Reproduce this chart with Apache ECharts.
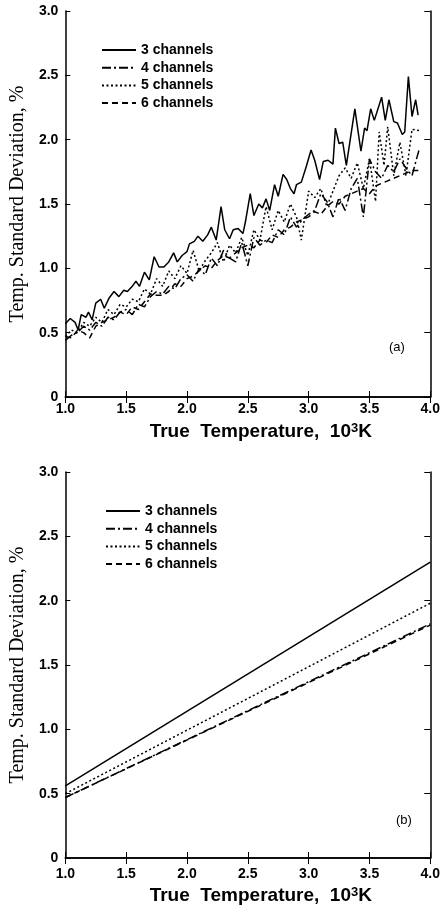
<!DOCTYPE html>
<html><head><meta charset="utf-8">
<script src="https://cdn.jsdelivr.net/npm/echarts@6/dist/echarts.min.js"></script>
<style>html,body{margin:0;padding:0;background:#fff}#c{width:443px;height:907px}</style>
</head><body><div id="c"></div>
<script>
// ---------- DATA ----------
const seriesNames = ['3 channels','4 channels','5 channels','6 channels'];
const xTicks = [1.0,1.5,2.0,2.5,3.0,3.5,4.0];
const yTicks = [0,0.5,1.0,1.5,2.0,2.5,3.0];

// Panel (a) – noisy simulation results
const a3x = [1.00,1.04,1.08,1.105,1.13,1.17,1.19,1.22,1.25,1.29,1.32,1.36,1.40,1.44,1.48,1.51,1.55,1.58,1.61,1.65,1.69,1.73,1.77,1.81,1.85,1.89,1.92,1.96,2.00,2.02,2.06,2.09,2.13,2.17,2.20,2.24,2.28,2.31,2.35,2.38,2.42,2.46,2.48,2.52,2.55,2.59,2.62,2.65,2.68,2.72,2.75,2.79,2.82,2.85,2.88,2.90,2.94,2.98,3.02,3.05,3.09,3.12,3.16,3.20,3.22,3.25,3.28,3.31,3.38,3.43,3.46,3.48,3.51,3.54,3.60,3.63,3.66,3.70,3.73,3.77,3.79,3.82,3.85,3.88,3.90];
const a3y = [0.57,0.61,0.58,0.52,0.64,0.62,0.66,0.60,0.73,0.76,0.69,0.77,0.82,0.78,0.83,0.82,0.86,0.90,0.86,0.97,0.91,1.09,1.01,1.01,1.05,1.12,1.05,1.10,1.13,1.19,1.21,1.25,1.21,1.26,1.32,1.22,1.48,1.30,1.23,1.30,1.31,1.27,1.36,1.58,1.41,1.50,1.47,1.54,1.45,1.65,1.56,1.73,1.69,1.62,1.58,1.65,1.67,1.79,1.92,1.84,1.69,1.83,1.84,1.81,2.09,1.97,1.98,1.80,2.24,1.91,2.09,2.07,2.24,2.15,2.33,2.15,2.31,2.14,2.13,2.04,2.06,2.49,2.18,2.31,2.19];

const a5x = [1.00,1.05,1.10,1.15,1.20,1.25,1.30,1.35,1.40,1.45,1.50,1.55,1.60,1.65,1.70,1.75,1.80,1.85,1.90,1.95,2.00,2.05,2.10,2.15,2.20,2.25,2.30,2.35,2.40,2.45,2.50,2.55,2.60,2.65,2.70,2.75,2.80,2.85,2.90,2.94,3.00,3.05,3.10,3.15,3.20,3.25,3.30,3.35,3.40,3.45,3.50,3.55,3.58,3.62,3.65,3.70,3.75,3.80,3.85,3.91];
const a5y = [0.47,0.52,0.50,0.58,0.55,0.62,0.58,0.68,0.64,0.72,0.70,0.76,0.74,0.84,0.80,0.92,0.86,0.98,0.92,1.02,0.96,1.14,0.98,1.06,1.12,1.20,1.05,1.18,1.12,1.24,1.10,1.30,1.22,1.48,1.30,1.45,1.36,1.50,1.40,1.22,1.60,1.55,1.62,1.48,1.60,1.72,1.78,1.70,1.82,1.62,1.85,1.52,2.06,1.80,2.10,1.72,1.98,1.72,2.08,2.07];

const a4x = [1.00,1.05,1.10,1.15,1.20,1.25,1.30,1.35,1.40,1.45,1.50,1.55,1.60,1.65,1.70,1.75,1.80,1.85,1.90,1.95,2.00,2.05,2.10,2.15,2.20,2.25,2.30,2.35,2.40,2.45,2.50,2.55,2.60,2.65,2.70,2.75,2.80,2.85,2.90,2.95,3.00,3.05,3.10,3.15,3.20,3.25,3.30,3.35,3.40,3.45,3.50,3.55,3.60,3.65,3.70,3.75,3.80,3.85,3.91];
const a4y = [0.44,0.48,0.50,0.55,0.52,0.58,0.55,0.62,0.60,0.66,0.68,0.64,0.72,0.70,0.78,0.82,0.80,0.86,0.84,0.92,0.95,0.90,1.00,0.95,1.08,1.02,1.14,1.08,1.05,1.20,1.02,1.24,1.18,1.22,1.20,1.30,1.26,1.40,1.32,1.38,1.42,1.45,1.58,1.52,1.40,1.55,1.45,1.62,1.70,1.40,1.85,1.75,1.70,1.80,1.75,1.85,1.78,1.72,1.93];

const a6x = [1.00,1.05,1.10,1.15,1.20,1.25,1.30,1.35,1.40,1.45,1.50,1.55,1.60,1.65,1.70,1.75,1.80,1.85,1.90,1.95,2.00,2.05,2.10,2.15,2.20,2.25,2.30,2.35,2.40,2.45,2.50,2.55,2.60,2.65,2.70,2.75,2.80,2.85,2.90,2.95,3.00,3.05,3.10,3.15,3.20,3.25,3.30,3.35,3.40,3.45,3.50,3.55,3.60,3.65,3.70,3.75,3.80,3.85,3.91];
const a6y = [0.47,0.46,0.52,0.50,0.46,0.55,0.58,0.60,0.62,0.66,0.64,0.70,0.68,0.74,0.80,0.79,0.79,0.82,0.88,0.86,0.92,0.94,0.98,1.02,1.00,1.06,1.10,1.08,1.12,1.16,1.18,1.16,1.22,1.20,1.26,1.24,1.30,1.32,1.36,1.38,1.40,1.44,1.42,1.48,1.52,1.50,1.56,1.58,1.60,1.62,1.58,1.64,1.66,1.68,1.70,1.72,1.74,1.76,1.76];

// Panel (b) – fitted straight lines
const bx = [1.0, 4.0];
const b3y = [0.56, 2.30];
const b4y = [0.47, 1.82];
const b5y = [0.50, 1.98];
const b6y = [0.47, 1.81];

// ---------- CHART ----------
const zip = (xs, ys) => xs.map((x, i) => [x, ys[i]]);
const styles = [
  {type:'solid', width:1.5},
  {type:[9,3,2,3], width:1.5},
  {type:[2,2.5], width:1.5},
  {type:[6,4], width:1.5}
];
const SANS = 'Liberation Sans, Arial, sans-serif';
const tickFont = {fontFamily:SANS, fontWeight:'bold', fontSize:14, color:'#000'};
const fmt1 = v => (v === 0 ? '0' : v.toFixed(1));

function xAxisMain(gi, margin, nameGap) {
  return {type:'value', gridIndex:gi, min:1, max:4, interval:0.5, position:'bottom',
    axisLine:{lineStyle:{color:'#000', width:1.5}},
    axisTick:{inside:true, length:6, lineStyle:{color:'#000'}},
    axisLabel:Object.assign({margin:margin, formatter:fmt1, showMinLabel:true, showMaxLabel:true}, tickFont),
    splitLine:{show:false},
    name:'{a|True  Temperature,  10}{s|3}{a|K}', nameLocation:'middle', nameGap:nameGap,
    nameTextStyle:{verticalAlign:'top', color:'#000', padding:[0,0,0,26],
      rich:{a:{fontFamily:SANS, fontWeight:'bold', fontSize:19, color:'#000'},
            s:{fontFamily:SANS, fontWeight:'bold', fontSize:13, color:'#000', verticalAlign:'top', padding:[0,0,6,0]}}}};
}
function xAxisTop(gi) {
  return {type:'value', gridIndex:gi, min:1, max:4, interval:0.5, position:'top',
    axisLine:{lineStyle:{color:'#000', width:1.5}},
    axisTick:{inside:true, length:6, lineStyle:{color:'#000'}},
    axisLabel:{show:false}, splitLine:{show:false}};
}
function yAxisMain(gi) {
  return {type:'value', gridIndex:gi, min:0, max:3, interval:0.5, position:'left',
    axisLine:{lineStyle:{color:'#000', width:1.5}},
    axisTick:{inside:true, length:5, lineStyle:{color:'#000'}},
    axisLabel:Object.assign({margin:7, formatter:fmt1}, tickFont),
    splitLine:{show:false},
    name:'Temp. Standard Deviation, %', nameLocation:'middle', nameGap:36,
    nameTextStyle:{fontFamily:'Liberation Serif, Times New Roman, serif', fontSize:20, color:'#000'}};
}
function yAxisRight(gi) {
  return {type:'value', gridIndex:gi, min:0, max:3, interval:0.5, position:'right',
    axisLine:{lineStyle:{color:'#000', width:1.5}},
    axisTick:{inside:true, length:6, lineStyle:{color:'#000'}},
    axisLabel:{show:false}, splitLine:{show:false}};
}
function line(name, data, gi, si) {
  return {name:name, type:'line', xAxisIndex:gi*2, yAxisIndex:gi*2, data:data,
    symbol:'none', showSymbol:false, silent:true, animation:false,
    itemStyle:{color:'#000'},
    lineStyle:Object.assign({color:'#000'}, styles[si])};
}

function legendAt(left, top) {
  return {orient:'vertical', left:left, top:top, itemWidth:34, itemHeight:14, itemGap:3.7,
    selectedMode:false, padding:0,
    itemStyle:{opacity:0},
    textStyle:{fontFamily:SANS, fontWeight:'bold', fontSize:14, color:'#000'},
    data:seriesNames.slice()};
}

const option = {
  backgroundColor:'#fff',
  animation:false,
  grid:[
    {left:62, top:11, width:370, height:386},
    {left:64, top:472, width:369, height:386}
  ],
  xAxis:[xAxisMain(0,5,25), xAxisTop(0), xAxisMain(1,9,28), xAxisTop(1)],
  yAxis:[yAxisMain(0), yAxisRight(0), yAxisMain(1), yAxisRight(1)],
  legend:[legendAt(101, 43), legendAt(105, 504)],
  graphic:[
    {type:'text', left:389, top:341, style:{text:'(a)', fontFamily:SANS, fontSize:13, fill:'#000'}},
    {type:'text', left:396, top:814, style:{text:'(b)', fontFamily:SANS, fontSize:13, fill:'#000'}}
  ],
  series:[
    line(seriesNames[0], zip(a3x,a3y), 0, 0),
    line(seriesNames[1], zip(a4x,a4y), 0, 1),
    line(seriesNames[2], zip(a5x,a5y), 0, 2),
    line(seriesNames[3], zip(a6x,a6y), 0, 3),
    line(seriesNames[0], zip(bx,b3y), 1, 0),
    line(seriesNames[1], zip(bx,b4y), 1, 1),
    line(seriesNames[2], zip(bx,b5y), 1, 2),
    line(seriesNames[3], zip(bx,b6y), 1, 3)
  ]
};
const chart = echarts.init(document.getElementById('c'), null, {renderer:'canvas'});
chart.setOption(option);
</script></body></html>
